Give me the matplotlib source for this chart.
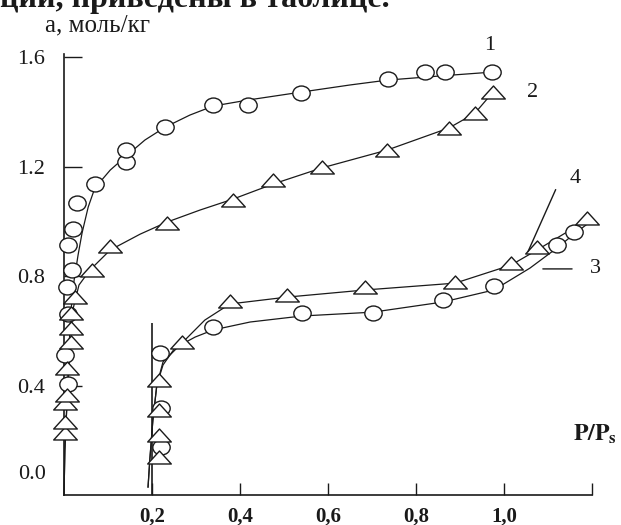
import numpy as np
import matplotlib
matplotlib.use("Agg")
import matplotlib.pyplot as plt
from matplotlib.path import Path

plt.rcParams['font.family'] = ['Liberation Serif', 'DejaVu Serif']
plt.rcParams['mathtext.fontset'] = 'stix'

# measured points (P/Ps, a mol/kg)
c1_x = [0.009, 0.002, 0.009, 0.007, 0.018, 0.009, 0.020, 0.030, 0.070, 0.141, 0.141,
        0.230, 0.339, 0.418, 0.539, 0.736, 0.820, 0.866, 0.973]
c1_y = [0.405, 0.511, 0.661, 0.760, 0.822, 0.913, 0.972, 1.067, 1.136, 1.216, 1.260,
        1.344, 1.425, 1.425, 1.468, 1.520, 1.545, 1.545, 1.545]

c2_x = [0.002, 0.002, 0.002, 0.007, 0.007, 0.016, 0.016, 0.016, 0.025, 0.064, 0.105,
        0.234, 0.384, 0.475, 0.586, 0.734, 0.875, 0.934, 0.975]
c2_y = [0.226, 0.267, 0.336, 0.365, 0.464, 0.559, 0.610, 0.665, 0.723, 0.822, 0.910,
        0.994, 1.078, 1.151, 1.198, 1.260, 1.341, 1.395, 1.472]

c3_x = [0.220, 0.220, 0.218, 0.339, 0.541, 0.702, 0.861, 0.977, 1.120, 1.159]
c3_y = [0.175, 0.318, 0.519, 0.614, 0.665, 0.665, 0.712, 0.763, 0.913, 0.961]

c4_x = [0.216, 0.216, 0.216, 0.216, 0.268, 0.377, 0.507, 0.684, 0.889, 1.016, 1.075, 1.189]
c4_y = [0.139, 0.219, 0.311, 0.420, 0.559, 0.709, 0.731, 0.760, 0.778, 0.847, 0.906, 1.012]

# hand-drawn fitted curves
l1_x = [0, 0.002, 0.007, 0.011, 0.016, 0.023, 0.032, 0.041, 0.055, 0.070, 0.105, 0.141,
        0.184, 0.230, 0.286, 0.339, 0.418, 0.539, 0.650, 0.736, 0.855, 0.973]
l1_y = [0, 0.164, 0.347, 0.530, 0.676, 0.785, 0.877, 0.957, 1.052, 1.121, 1.187, 1.238,
        1.297, 1.344, 1.388, 1.421, 1.443, 1.472, 1.498, 1.516, 1.531, 1.545]

l2_x = [0, 0.002, 0.007, 0.014, 0.020, 0.034, 0.059, 0.105, 0.173, 0.234, 0.309, 0.384,
        0.475, 0.586, 0.734, 0.875, 0.934, 0.975]
l2_y = [0, 0.164, 0.347, 0.530, 0.676, 0.767, 0.822, 0.895, 0.953, 0.997, 1.041, 1.081,
        1.136, 1.195, 1.260, 1.341, 1.395, 1.472]

l3_x = [0.191, 0.195, 0.202, 0.211, 0.225, 0.252, 0.298, 0.339, 0.423, 0.541, 0.702,
        0.861, 0.977, 1.059, 1.120, 1.159, 1.195]
l3_y = [0.029, 0.128, 0.274, 0.402, 0.475, 0.537, 0.577, 0.603, 0.632, 0.654, 0.668,
        0.705, 0.749, 0.829, 0.902, 0.953, 0.997]

l4_x = [0.191, 0.195, 0.202, 0.211, 0.225, 0.268, 0.320, 0.377, 0.507, 0.684, 0.889,
        1.016, 1.075, 1.189]
l4_y = [0.029, 0.128, 0.274, 0.402, 0.486, 0.555, 0.639, 0.698, 0.723, 0.749, 0.774,
        0.840, 0.895, 1.005]

yticks = [0.4, 0.8, 1.2, 1.6]
ytick_labels = ['0.4', '0.8', '1.2', '1.6']
xticks = [0.2, 0.4, 0.6, 0.8, 1.0, 1.2]
xtick_labels = ['0,2', '0,4', '0,6', '0,8', '1,0', '']

W, H = 621, 525
fig = plt.figure(figsize=(W / 100, H / 100), dpi=100)
ax = fig.add_axes([64 / W, 30 / H, 550 / W, 479 / H])
ax.set_xlim(0, 1.25)
ax.set_ylim(0, 1.75)

# flat triangle and slightly squashed circle, as in the scan
tri = Path([(-1, -0.55), (1, -0.55), (0, 0.55), (-1, -0.55)],
           [Path.MOVETO, Path.LINETO, Path.LINETO, Path.CLOSEPOLY])
uc = Path.unit_circle()
ell = Path(uc.vertices * np.array([1.0, 0.86]), uc.codes)

ink = '#1a1a1a'
for lx, ly in [(l1_x, l1_y), (l2_x, l2_y), (l3_x, l3_y), (l4_x, l4_y)]:
    ax.plot(lx, ly, color=ink, lw=0.9, zorder=2, clip_on=False)

for px, py, m, ms in [(c1_x, c1_y, ell, 12.5), (c2_x, c2_y, tri, 17),
                      (c3_x, c3_y, ell, 12.5), (c4_x, c4_y, tri, 17)]:
    ax.plot(px, py, ls='none', marker=m, ms=ms, mfc='white', mec=ink, mew=1.0,
            zorder=3, clip_on=False)

# second origin for curves 3, 4
ax.vlines(0.2, 0, 0.63, color=ink, lw=1.2, zorder=1)

for s in ['top', 'right']:
    ax.spines[s].set_visible(False)
ax.spines['left'].set_bounds(0, 1.61)
ax.spines['bottom'].set_bounds(0, 1.2)
for s in ['left', 'bottom']:
    ax.spines[s].set_linewidth(1.2)
    ax.spines[s].set_color(ink)

ax.set_yticks(yticks)
ax.set_yticklabels(ytick_labels)
ax.set_xticks(xticks)
ax.set_xticklabels(xtick_labels, fontweight='bold')
ax.tick_params(axis='y', direction='in', length=13, width=1.0, pad=14,
               labelsize=16, colors=ink)
ax.tick_params(axis='x', direction='in', length=9, width=1.0, pad=8,
               labelsize=15, colors=ink)
ax.text(-0.04, 0.075, '0.0', ha='right', va='center', fontsize=16, color=ink)

ax.text(1.157, 0.22, r'$\mathbf{P/P_s}$', ha='left', va='center', fontsize=17, color=ink)

# curve numbers
ax.text(0.968, 1.644, '1', ha='center', va='center', fontsize=16, color=ink)
ax.text(1.052, 1.472, '2', ha='left', va='center', fontsize=16, color=ink)
ax.text(1.150, 1.158, '4', ha='left', va='center', fontsize=16, color=ink)
ax.text(1.195, 0.826, '3', ha='left', va='center', fontsize=16, color=ink)
ax.annotate('', xy=(1.052, 0.880), xytext=(1.120, 1.125),
            arrowprops=dict(arrowstyle='-', color=ink, lw=1.0))
ax.annotate('', xy=(1.082, 0.826), xytext=(1.161, 0.826),
            arrowprops=dict(arrowstyle='-', color=ink, lw=1.0))

fig.text(45 / W, 1 - 25 / H, 'а, моль/кг', ha='left', va='center', fontsize=18, color=ink)
fig.text(0.0, 1 - 7 / H, 'ции, приведены в таблице.', ha='left', va='baseline',
         fontsize=23, fontweight='bold', color=ink)

fig.savefig('out.png', dpi=100)
